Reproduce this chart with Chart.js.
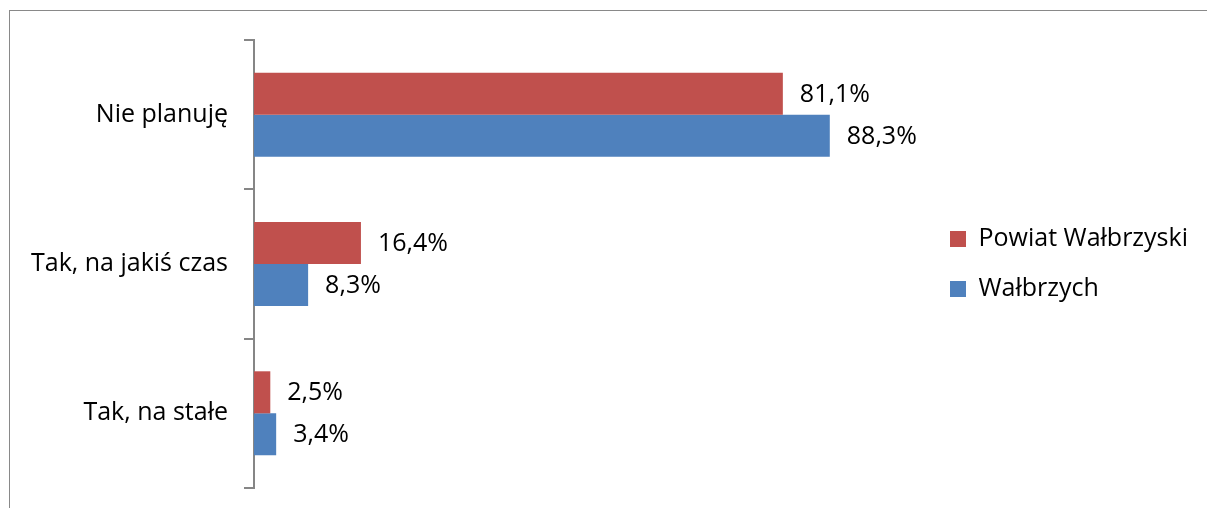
<!DOCTYPE html>
<html lang="pl">
<head>
    <meta charset="UTF-8">
    <title>Plany wyjazdu</title>
    <script src="https://cdn.jsdelivr.net/npm/chart.js"></script>
    <style>
        html, body { margin: 0; padding: 0; background: #fff; overflow: hidden; }
        #frame {
            position: absolute; left: 9px; top: 10px;
            width: 1300px; height: 600px;
            border: 1px solid #898989;
        }
        #wrap { position: absolute; left: 0; top: 0; width: 1207px; height: 508px; }
    </style>
</head>
<body>
    <div id="frame"></div>
    <div id="wrap"><canvas id="chart"></canvas></div>

    <script>
        const categories = ["Nie planuję", "Tak, na jakiś czas", "Tak, na stałe"];
        const seriesNames = ["Powiat Wałbrzyski", "Wałbrzych"];
        const powiatValues = [81.1, 16.4, 2.5];
        const walbrzychValues = [88.3, 8.3, 3.4];

        const FONT = { family: '"Open Sans", "Liberation Sans", sans-serif', size: 25 };
        const legendPad = 25;
        const legendBox = 16;

        // work out right padding so the legend lands where it should
        const mctx = document.createElement("canvas").getContext("2d");
        mctx.font = FONT.size + "px " + FONT.family;
        const legendTextW = mctx.measureText(seriesNames[0]).width;
        const legendW = legendPad + legendBox + FONT.size / 2 + legendTextW + 10;
        const rightPad = Math.max(0, 1207 - 925 - legendW);

        function fmt(v) {
            return v.toFixed(1).replace(".", ",") + "%";
        }

        const valueLabels = {
            id: "valueLabels",
            afterDatasetsDraw(chart) {
                const ctx = chart.ctx;
                ctx.save();
                ctx.font = FONT.size + "px " + FONT.family;
                ctx.fillStyle = "#000";
                ctx.textAlign = "left";
                ctx.textBaseline = "middle";
                chart.data.datasets.forEach((ds, i) => {
                    chart.getDatasetMeta(i).data.forEach((bar, j) => {
                        ctx.fillText(fmt(ds.data[j]), bar.x + 17, bar.y + 1);
                    });
                });
                ctx.restore();
            }
        };

        const ctx = document.getElementById("chart").getContext("2d");
        new Chart(ctx, {
            type: "bar",
            data: {
                labels: categories,
                datasets: [
                    {
                        label: seriesNames[0],
                        data: powiatValues,
                        backgroundColor: "#C0504D",
                        categoryPercentage: 0.563,
                        barPercentage: 1.0,
                    },
                    {
                        label: seriesNames[1],
                        data: walbrzychValues,
                        backgroundColor: "#4F81BD",
                        categoryPercentage: 0.563,
                        barPercentage: 1.0,
                    },
                ],
            },
            options: {
                indexAxis: "y",
                responsive: true,
                maintainAspectRatio: false,
                animation: false,
                layout: { padding: { top: 40, bottom: 20, left: 0, right: rightPad } },
                plugins: {
                    legend: {
                        position: "right",
                        align: "center",
                        labels: {
                            font: FONT,
                            color: "#000",
                            boxWidth: legendBox,
                            boxHeight: legendBox,
                            padding: legendPad,
                        },
                    },
                    tooltip: { enabled: false },
                },
                scales: {
                    x: {
                        display: false,
                        min: 0,
                        max: 102.9,
                    },
                    y: {
                        afterFit: (s) => {
                            s.width = 254;
                            s.paddingTop = 0;
                            s.paddingBottom = 0;
                        },
                        border: { display: true, color: "#868686", width: 2 },
                        grid: {
                            drawOnChartArea: false,
                            drawTicks: true,
                            tickLength: 10,
                            color: "#868686",
                            lineWidth: 2,
                        },
                        ticks: {
                            font: FONT,
                            color: "#000",
                            padding: 16,
                        },
                    },
                },
            },
            plugins: [valueLabels],
        });
    </script>
</body>
</html>
